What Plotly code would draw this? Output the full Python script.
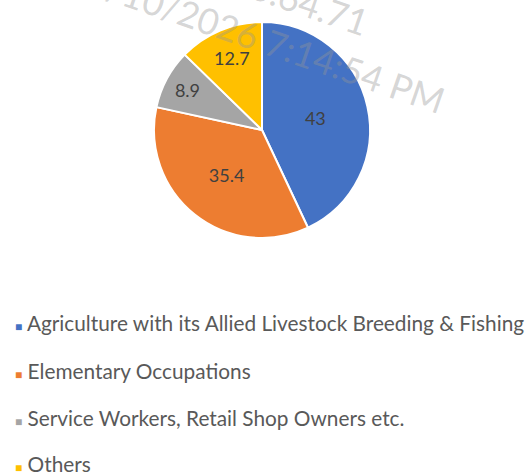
import plotly.graph_objects as go

labels = ["Agriculture with its Allied Livestock Breeding & Fishing",
          "Elementary Occupations",
          "Service Workers, Retail Shop Owners etc.",
          "Others"]
values = [43, 35.4, 8.9, 12.7]
colors = ["#4472C4", "#ED7D31", "#A5A5A5", "#FFC000"]

W, H = 525, 473
cx, cy, r = 262, 130, 108

fig = go.Figure(go.Pie(
    labels=labels, values=values, sort=False, direction="clockwise", rotation=0,
    marker=dict(colors=colors, line=dict(color="white", width=2)),
    texttemplate="%{value}", textposition="inside", insidetextorientation="horizontal",
    textfont=dict(family="Lato", size=18, color="#404040"),
    showlegend=False,
    domain=dict(x=[(cx - r) / W, (cx + r) / W], y=[1 - (cy + r) / H, 1 - (cy - r) / H]),
))

# watermark
wm_font = dict(family="Lato", size=36, color="rgba(150,150,150,0.40)")
fig.add_annotation(x=266 / W, y=1 - 40 / H, xref="paper", yref="paper",
                   xanchor="center", yanchor="middle",
                   text="2/10/2026 7:14:54 PM", textangle=19, showarrow=False, font=wm_font)
fig.add_annotation(x=276 / W, y=1 - (-8) / H, xref="paper", yref="paper",
                   xanchor="center", yanchor="middle",
                   text="10.10.64.71", textangle=19, showarrow=False, font=wm_font)

# legend
rows_y = [322, 370, 417, 463]
for lab, col, yy in zip(labels, colors, rows_y):
    fig.add_annotation(x=13 / W, y=1 - yy / H, xref="paper", yref="paper",
                       xanchor="left", yanchor="middle", showarrow=False,
                       text=f"<span style='color:{col};font-size:12px'>■</span> {lab}",
                       font=dict(family="Lato", size=20.8, color="#595959"))

fig.update_layout(width=W, height=H, margin=dict(l=0, r=0, t=0, b=0),
                  paper_bgcolor="white", plot_bgcolor="white")
fig.write_html("out.html")
